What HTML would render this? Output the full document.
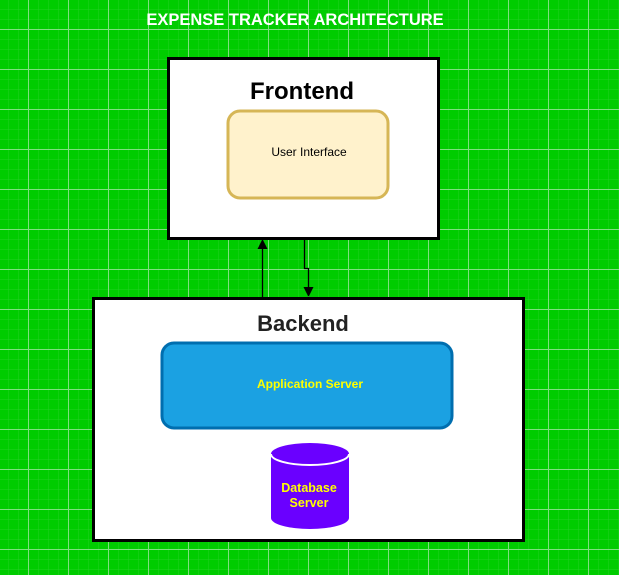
<!DOCTYPE html>
<html><head><style>
body{margin:0;width:619px;height:575px;overflow:hidden;font-family:"Liberation Sans",Arial,sans-serif;}
</style></head><body>
<svg width="619" height="575" xmlns="http://www.w3.org/2000/svg">
<defs>
<pattern id="minor" width="10" height="10" patternUnits="userSpaceOnUse" x="8" y="9">
<path d="M0 0H10M0 0V10" stroke="#22d022" stroke-width="1" fill="none"/>
</pattern>
<pattern id="major" width="40" height="40" patternUnits="userSpaceOnUse" x="28" y="29">
<path d="M0 0.5H40M0.5 0V40" stroke="#80e080" stroke-width="1" fill="none"/>
</pattern>
</defs>
<rect width="619" height="575" fill="#00cc00"/>
<rect width="619" height="575" fill="url(#minor)"/>
<rect width="619" height="575" fill="url(#major)"/>
<text x="295" y="25" text-anchor="middle" fill="#fff" font-weight="bold" font-size="16.5">EXPENSE TRACKER ARCHITECTURE</text>
<rect x="168.5" y="58.5" width="270" height="180" fill="#fff" stroke="#000" stroke-width="3"/>
<text x="302" y="99" text-anchor="middle" font-weight="bold" font-size="24">Frontend</text>
<rect x="228" y="111" width="160" height="87" rx="12" fill="#fff2cc" stroke="#d6b656" stroke-width="3"/>
<text x="309" y="156" text-anchor="middle" font-size="12">User Interface</text>
<rect x="93.5" y="298.5" width="430" height="242" fill="#fff" stroke="#000" stroke-width="3"/>
<text x="303" y="331" text-anchor="middle" font-weight="bold" font-size="22" fill="#222">Backend</text>
<rect x="162" y="343" width="290" height="85" rx="12" fill="#1ba1e2" stroke="#006eaf" stroke-width="3"/>
<text x="310" y="388" text-anchor="middle" font-weight="bold" font-size="12" fill="#ffff00">Application Server</text>
<path d="M271 454 A39 11 0 0 1 349 454 V518 A39 11 0 0 1 271 518 Z" fill="#6a00ff"/>
<path d="M271 454 A39 11 0 0 0 349 454" fill="none" stroke="#fff" stroke-width="2"/>
<text x="309" y="492" text-anchor="middle" font-weight="bold" font-size="12.5" fill="#ffff00">Database</text>
<text x="309" y="507" text-anchor="middle" font-weight="bold" font-size="12.5" fill="#ffff00">Server</text>
<path d="M262.5 297 V248" stroke="#000" stroke-width="1.3" fill="none"/>
<path d="M262.5 239 L257.5 249 L267.5 249 Z" fill="#000"/>
<path d="M304.5 240 V268.5 H308.5 V288" stroke="#000" stroke-width="1.3" fill="none"/>
<path d="M308.5 297 L303.5 287 L313.5 287 Z" fill="#000"/>
</svg>
</body></html>
